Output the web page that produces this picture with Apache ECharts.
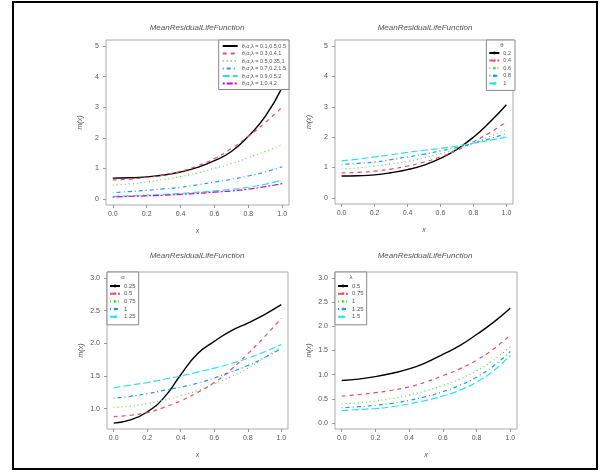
<!DOCTYPE html>
<html><head><meta charset="utf-8">
<script src="https://cdn.jsdelivr.net/npm/echarts@6/dist/echarts.min.js"></script>
<style>html,body{margin:0;padding:0;background:#fff}#c{width:605px;height:472px}</style>
</head><body><div id="c"></div>
<script>
// ---- data ----
const xValues = [0,0.1,0.2,0.3,0.4,0.5,0.6,0.7,0.8,0.9,1.0];
const xTicks = [0,0.2,0.4,0.6,0.8,1.0];
const panelTitle = 'MeanResidualLifeFunction';

const p1Labels = ['θ,α,λ = 0.1,0.5,0.5','θ,α,λ = 0.3,0.4,1','θ,α,λ = 0.5,0.35,1','θ,α,λ = 0.7,0.2,1.5','θ,α,λ = 0.9,0.5,2','θ,α,λ = 1,0.4,2'];
const p1S1 = [0.68,0.69,0.72,0.78,0.88,1.03,1.25,1.55,2.05,2.7,3.65];
const p1S2 = [0.62,0.65,0.70,0.78,0.90,1.08,1.32,1.65,2.05,2.5,3.0];
const p1S3 = [0.45,0.49,0.55,0.63,0.73,0.85,1.0,1.15,1.35,1.55,1.78];
const p1S4 = [0.2,0.24,0.28,0.33,0.38,0.46,0.55,0.64,0.75,0.88,1.05];
const p1S5 = [0.08,0.1,0.12,0.15,0.18,0.22,0.26,0.31,0.38,0.48,0.62];
const p1S6 = [0.06,0.08,0.1,0.12,0.15,0.18,0.22,0.26,0.32,0.4,0.5];
const p1YTicks = [0,1,2,3,4,5];

const p2Title = 'θ';
const p2Labels = ['0.2','0.4','0.6','0.8','1'];
const p2S1 = [0.72,0.73,0.76,0.83,0.93,1.08,1.3,1.6,2.0,2.5,3.07];
const p2S2 = [0.82,0.84,0.88,0.95,1.05,1.18,1.35,1.57,1.85,2.15,2.5];
const p2S3 = [0.95,0.99,1.05,1.12,1.2,1.32,1.45,1.6,1.8,2.02,2.25];
const p2S4 = [1.1,1.14,1.18,1.26,1.35,1.44,1.55,1.66,1.8,1.95,2.12];
const p2S5 = [1.22,1.28,1.35,1.42,1.5,1.57,1.63,1.71,1.8,1.9,2.0];
const p2YTicks = [0,1,2,3,4,5];

const p3Title = 'α';
const p3Labels = ['0.25','0.5','0.75','1','1.25'];
const p3S1 = [0.78,0.83,0.95,1.17,1.52,1.84,2.03,2.19,2.31,2.44,2.59];
const p3S2 = [0.88,0.9,0.94,1.02,1.12,1.25,1.4,1.6,1.84,2.1,2.38];
const p3S3 = [1.02,1.04,1.08,1.13,1.2,1.28,1.38,1.49,1.62,1.78,1.95];
const p3S4 = [1.16,1.19,1.23,1.28,1.33,1.39,1.47,1.56,1.66,1.78,1.92];
const p3S5 = [1.32,1.36,1.4,1.45,1.5,1.56,1.62,1.69,1.77,1.87,1.98];
const p3YTicks = [1.0,1.5,2.0,2.5,3.0];

const p4Title = 'λ';
const p4Labels = ['0.5','0.75','1','1.25','1.5'];
const p4S1 = [0.88,0.91,0.96,1.03,1.12,1.25,1.42,1.6,1.83,2.08,2.37];
const p4S2 = [0.56,0.59,0.63,0.68,0.75,0.85,0.98,1.12,1.3,1.53,1.82];
const p4S3 = [0.4,0.42,0.46,0.51,0.58,0.67,0.78,0.91,1.08,1.3,1.58];
const p4S4 = [0.32,0.34,0.37,0.41,0.47,0.55,0.65,0.78,0.95,1.18,1.48];
const p4S5 = [0.26,0.28,0.3,0.34,0.4,0.47,0.56,0.68,0.85,1.08,1.4];
const p4YTicks = [0.0,0.5,1.0,1.5,2.0,2.5,3.0];

// ---- styles ----
const colors = ['#000000','#DF536B','#61D04F','#2297E6','#28E2E5','#CD0BBC'];
const dashes = ['solid',[4,4],[1,3],[1,3,4,3],[7,3],[2,2,6,2]];
const txt = '#555';

const panels = [
  {grid:{left:106,top:40,width:183,height:165}, ymin:-0.2, ymax:5.2, yTicks:p1YTicks, yFmt:v=>String(v),
   labels:p1Labels, data:[p1S1,p1S2,p1S3,p1S4,p1S5,p1S6], symbol:false,
   legend:{right:316, top:40, padding:[3,3,3,3], itemWidth:15, itemHeight:6, itemGap:1.5, fontSize:5.5}, title:{x:197,y:28}},
  {grid:{left:335,top:40,width:178,height:164}, ymin:-0.2, ymax:5.2, yTicks:p2YTicks, yFmt:v=>String(v),
   labels:p2Labels, data:[p2S1,p2S2,p2S3,p2S4,p2S5], symbol:true, ltitle:p2Title,
   legend:{right:90, top:40, padding:[10,4,4,2], itemWidth:10, itemHeight:3.5, itemGap:1.6, fontSize:5.5}, title:{x:425,y:28}},
  {grid:{left:107,top:272,width:181,height:157}, ymin:0.69, ymax:3.09, yTicks:p3YTicks, yFmt:v=>v.toFixed(1),
   labels:p3Labels, data:[p3S1,p3S2,p3S3,p3S4,p3S5], symbol:true, ltitle:p3Title,
   legend:{left:107, top:272, padding:[11,3,5,2], itemWidth:10, itemHeight:3.5, itemGap:1.7, fontSize:6}, title:{x:197,y:256}},
  {grid:{left:335,top:272,width:182,height:157}, ymin:-0.12, ymax:3.12, yTicks:p4YTicks, yFmt:v=>v.toFixed(1),
   labels:p4Labels, data:[p4S1,p4S2,p4S3,p4S4,p4S5], symbol:true, ltitle:p4Title,
   legend:{left:335, top:272, padding:[11,3,5,2], itemWidth:10, itemHeight:3.5, itemGap:1.7, fontSize:6}, title:{x:425,y:256}}
];

const grid=[], xAxis=[], yAxis=[], series=[], legend=[], graphic=[];
graphic.push({type:'rect', shape:{x:13,y:2,width:584,height:467}, style:{fill:'none',stroke:'#000',lineWidth:2}, silent:true, z:100});
panels.forEach((p,i)=>{
  grid.push(Object.assign({show:true, borderColor:'#aaa', borderWidth:1, backgroundColor:'#fff'}, p.grid));
  xAxis.push({type:'value', gridIndex:i, min:-0.04, max:1.04, position:'bottom',
    name:'x', nameLocation:'middle', nameGap:23,
    nameTextStyle:{fontStyle:'italic', fontSize:7, color:txt, fontFamily:'Liberation Sans'},
    axisLine:{show:false, onZero:false}, splitLine:{show:false},
    axisTick:{show:true, inside:false, length:3, customValues:xTicks, lineStyle:{color:'#999'}},
    axisLabel:{customValues:xTicks, formatter:v=>v.toFixed(1), fontSize:7, color:txt, margin:6, fontFamily:'Liberation Sans'}});
  yAxis.push({type:'value', gridIndex:i, min:p.ymin, max:p.ymax, position:'left',
    name:'m(x)', nameLocation:'middle', nameGap:22,
    nameTextStyle:{fontStyle:'italic', fontSize:7, color:txt, fontFamily:'Liberation Sans'},
    axisLine:{show:false, onZero:false}, splitLine:{show:false},
    axisTick:{show:true, inside:false, length:3, customValues:p.yTicks, lineStyle:{color:'#999'}},
    axisLabel:{customValues:p.yTicks, formatter:p.yFmt, fontSize:7, color:txt, margin:7, fontFamily:'Liberation Sans'}});
  const names=[];
  p.data.forEach((d,k)=>{
    const nm = 'p'+(i+1)+'|'+p.labels[k];
    names.push(nm);
    series.push({type:'line', name:nm, xAxisIndex:i, yAxisIndex:i, smooth:true,
      data:xValues.map((x,j)=>[x,d[j]]),
      symbol:p.symbol?'circle':'none', symbolSize:3, showSymbol:false,
      lineStyle:{color:colors[k], width:k===0?1.4:1.2, type:dashes[k]},
      itemStyle:{color:colors[k]}, emphasis:{disabled:true}, silent:true, z:2});
  });
  const L = p.legend;
  const lg = {
    data:names, orient:'vertical', formatter:n=>n.split('|')[1],
    backgroundColor:'#fff', borderColor:'#888', borderWidth:1,
    padding:L.padding, itemWidth:L.itemWidth, itemHeight:L.itemHeight, itemGap:L.itemGap, selectedMode:false,
    itemStyle:p.symbol?{}:{opacity:0},
    textStyle:{fontSize:L.fontSize, color:txt, fontFamily:'Liberation Sans', padding:[0,0,0,-1]},
    top:L.top
  };
  if (L.left!==undefined) lg.left=L.left; else lg.right=L.right;
  legend.push(lg);
  graphic.push({type:'text', x:p.title.x, y:p.title.y, silent:true,
    style:{text:panelTitle, align:'center', verticalAlign:'middle', fill:txt,
      font:'italic 8px "Liberation Sans"'}});
});
// legend titles
const lt = [[null],[502,45],[123,277],[351,277]];
panels.forEach((p,i)=>{ if(p.ltitle){ graphic.push({type:'text', x:lt[i][0], y:lt[i][1], silent:true, z:50,
  style:{text:p.ltitle, align:'center', verticalAlign:'middle', fill:txt, font:'6px "Liberation Sans"'}}); }});

const chart = echarts.init(document.getElementById('c'), null, {renderer:'canvas'});
chart.setOption({animation:false, backgroundColor:'#fff', grid, xAxis, yAxis, series, legend, graphic});
</script></body></html>
